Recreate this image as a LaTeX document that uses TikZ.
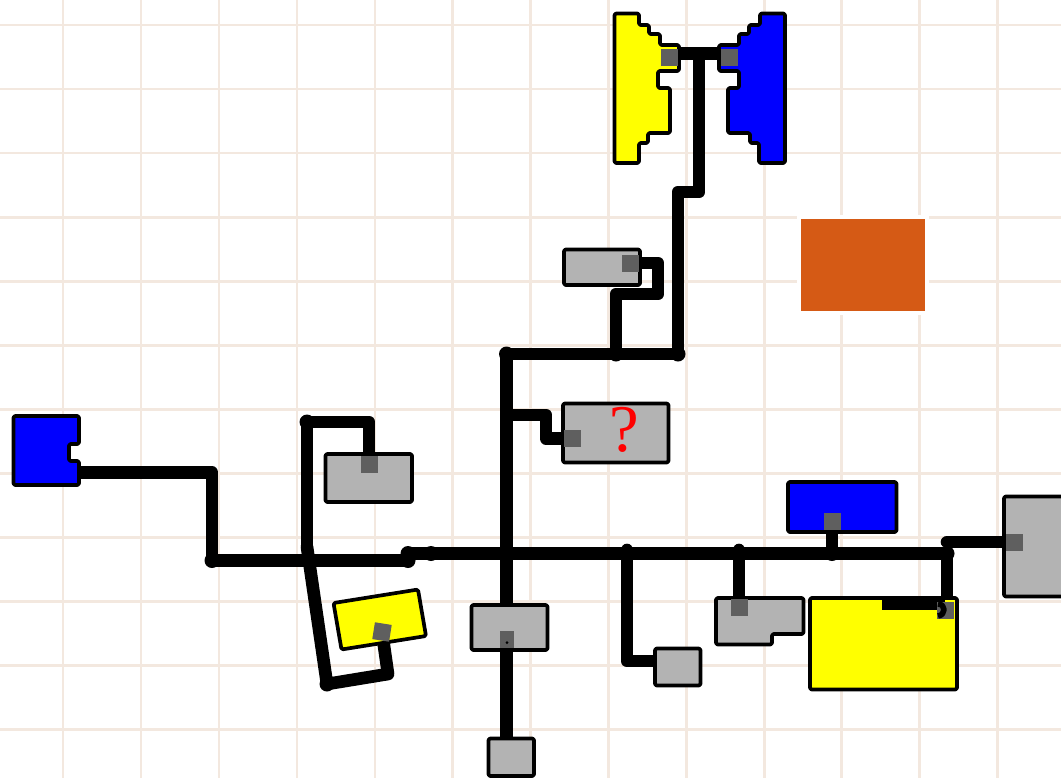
\documentclass[tikz,border=0pt]{standalone}
\usepackage{xcolor}
\usepackage{fontspec}
\newfontfamily\queryfont{Liberation Serif}
\definecolor{PCBGrid}{HTML}{F3E8DF}
\definecolor{PCBGray}{HTML}{B3B3B3}
\definecolor{PCBPad}{HTML}{5F5F5F}
\definecolor{PCBOrange}{HTML}{D55A15}
\definecolor{PCBYellow}{HTML}{FFFF00}
\definecolor{PCBBlue}{HTML}{0000FF}
\tikzset{
  gridline/.style={PCBGrid,line width=1.7pt},
  wire/.style={black,line width=7.2pt,line join=round,line cap=round},
  thinwire/.style={black,line width=3.2pt,line join=round},
  block/.style={draw=black,line width=2.1pt,rounded corners=0.9pt,line join=round},
  pad/.style={draw=none,fill=PCBPad,inner sep=0pt,minimum width=0.34cm,minimum height=0.34cm},
  joint/.style={circle,fill=black,inner sep=0pt,minimum size=0.3cm}
}
\begin{document}
\begin{tikzpicture}[x=0.02cm,y=-0.02cm]
\path[use as bounding box] (0,0) rectangle (1061,778);
\draw[gridline] (63,0) -- (63,778);
\draw[gridline] (141,0) -- (141,778);
\draw[gridline] (219,0) -- (219,778);
\draw[gridline] (297,0) -- (297,778);
\draw[gridline] (375,0) -- (375,778);
\draw[gridline] (452,0) -- (452,778);
\draw[gridline] (530,0) -- (530,778);
\draw[gridline] (608,0) -- (608,778);
\draw[gridline] (686,0) -- (686,778);
\draw[gridline] (764,0) -- (764,778);
\draw[gridline] (841,0) -- (841,778);
\draw[gridline] (919,0) -- (919,778);
\draw[gridline] (997,0) -- (997,778);
\draw[gridline] (0,25) -- (1061,25);
\draw[gridline] (0,89) -- (1061,89);
\draw[gridline] (0,153) -- (1061,153);
\draw[gridline] (0,217) -- (1061,217);
\draw[gridline] (0,281) -- (1061,281);
\draw[gridline] (0,345) -- (1061,345);
\draw[gridline] (0,409) -- (1061,409);
\draw[gridline] (0,473) -- (1061,473);
\draw[gridline] (0,537) -- (1061,537);
\draw[gridline] (0,601) -- (1061,601);
\draw[gridline] (0,665) -- (1061,665);
\draw[gridline] (0,729) -- (1061,729);
\fill[white] (797,215) rectangle (929,315);
\fill[PCBOrange] (801,219) rectangle (925,311);
\coordinate (jTop) at (699,53.5);
\coordinate (padYellowTop) at (669.5,57);
\coordinate (padBlueTop) at (729,57);
\coordinate (padShort) at (630.5,263);
\coordinate (padQuery) at (572,438.5);
\coordinate (padWide) at (369,464.5);
\coordinate (padTilt) at (382,632);
\coordinate (padCentre) at (507,639.5);
\coordinate (padNotch) at (739,607.5);
\coordinate (padBlueLow) at (832,521.5);
\coordinate (padBig) at (945.5,610);
\coordinate (padEdge) at (1014,542);
\coordinate (jUpperEnd) at (678,354);
\coordinate (jUpperMid) at (616,354);
\coordinate (jUpperLeft) at (506.5,354);
\coordinate (jQuery) at (506.5,415);
\coordinate (jBusA) at (408,553.5);
\coordinate (jBusB) at (408,560.5);
\coordinate (jBusC) at (431,553.5);
\coordinate (jBusD) at (627,550);
\coordinate (jBusE) at (739,550);
\coordinate (jBusF) at (832,553.5);
\coordinate (jBusG) at (947,553.5);
\coordinate (jBusH) at (947,542);
\coordinate (jLeft) at (212,560.5);
\coordinate (jCross) at (307,547);
\coordinate (jLoop) at (327,684);
\coordinate (jWide) at (307,422);
\draw[wire] (padYellowTop |- jTop) -- (jTop) -- (padBlueTop |- jTop);
\draw[wire] (jTop) -- (699,192) -- (678,192) -- (jUpperEnd);
\draw[wire] (jUpperEnd) -- (jUpperLeft);
\draw[wire] (padShort) -- (658,263) -- (658,294) -- (616,294) -- (jUpperMid);
\draw[wire] (jUpperLeft) -- (506.5,640);
\draw[wire] (506.5,645) -- (506.5,745);
\draw[wire] (jQuery) -- (546,415) -- (546,438.5) -- (padQuery);
\draw[wire] (jBusA) -- (jBusG);
\draw[wire] (jLeft) -- (jBusB);
\draw[wire] (80,472.5) -- (212,472.5) -- (jLeft);
\draw[wire] (jCross) -- (jWide) -- (369,422) -- (padWide);
\draw[wire] (jCross) -- (jLoop) -- (388,674) -- (padTilt);
\draw[wire] (jBusD) -- (627,661) -- (665,661);
\draw[wire] (jBusE) -- (padNotch);
\draw[wire] (jBusF) -- (padBlueLow);
\draw[wire] (jBusG) -- (947,605);
\draw[wire] (jBusH) -- (padEdge);
\node[joint] (dotUpperEnd) at (jUpperEnd) {};
\node[joint] (dotUpperMid) at (jUpperMid) {};
\node[joint] (dotUpperLeft) at (jUpperLeft) {};
\node[joint] (dotBusA) at (jBusA) {};
\node[joint] (dotBusB) at (jBusB) {};
\node[joint] (dotBusC) at (jBusC) {};
\node[joint] (dotBusF) at (jBusF) {};
\node[joint] (dotBusG) at (jBusG) {};
\node[joint] (dotLeft) at (jLeft) {};
\node[joint] (dotLoop) at (jLoop) {};
\node[joint] (dotWide) at (jWide) {};
\draw[block,fill=PCBYellow] (614.5,13.5) -- (639,13.5) -- (639,25) -- (649,25) -- (649,34) -- (660,34) -- (660,45) -- (679,45) -- (679,71) -- (658,71) -- (658,88) -- (670,88) -- (670,133) -- (648,133) -- (648,143) -- (639,143) -- (639,163) -- (614.5,163) -- cycle;
\draw[block,fill=PCBBlue] (785,13.5) -- (760,13.5) -- (760,25) -- (749,25) -- (749,34) -- (739,34) -- (739,45) -- (719,45) -- (719,71) -- (739,71) -- (739,88) -- (728,88) -- (728,133) -- (750,133) -- (750,143) -- (759,143) -- (759,163) -- (785,163) -- cycle;
\draw[block,fill=PCBGray] (564,249.5) rectangle (640,285);
\draw[block,fill=PCBGray] (563,403.5) rectangle (668.5,462.5);
\draw[block,fill=PCBGray] (325.5,454) rectangle (412,502);
\draw[block,fill=PCBGray] (471.5,605) rectangle (547.5,650);
\draw[block,fill=PCBGray] (488.5,738.5) rectangle (534,776);
\draw[block,fill=PCBGray] (655,648.5) rectangle (700.5,685.5);
\draw[block,fill=PCBGray] (1004,496.5) rectangle (1065,596.5);
\draw[block,fill=PCBBlue] (788,482) rectangle (896.5,532);
\draw[block,fill=PCBYellow] (810,598) rectangle (957,689.5);
\draw[block,fill=PCBYellow] (333.5,603) -- (418,589.5) -- (426,636) -- (341.5,649.5) -- cycle;
\draw[block,fill=PCBGray] (716,598) -- (803.5,598) -- (803.5,634) -- (772,634) -- (772,644.5) -- (716,644.5) -- cycle;
\draw[block,fill=PCBBlue] (13.5,416) -- (79,416) -- (79,444) -- (69,444) -- (69,461) -- (79,461) -- (79,485) -- (13.5,485) -- cycle;
\fill[black] (882,597) rectangle (945,610);
\node[pad] (nodeYellowTop) at (padYellowTop) {};
\node[pad] (nodeBlueTop) at (padBlueTop) {};
\node[pad] (nodeShort) at (padShort) {};
\node[pad] (nodeQuery) at (padQuery) {};
\node[pad] (nodeWide) at (padWide) {};
\node[pad,rotate=-9] (nodeTilt) at (padTilt) {};
\node[pad,minimum width=0.29cm] (nodeCentre) at (padCentre) {};
\node[pad] (nodeNotch) at (padNotch) {};
\node[pad] (nodeBlueLow) at (padBlueLow) {};
\node[pad] (nodeBig) at (padBig) {};
\node[pad] (nodeEdge) at (padEdge) {};
\draw[thinwire] (938,604) .. controls (946,604) and (946,615) .. (938,616);
\fill[black] (padCentre) ++(0,3) circle (0.03cm);
\node[text=red,inner sep=0pt] (query) at (624,430) {\fontsize{38}{38}\queryfont ?};
\end{tikzpicture}
\end{document}
